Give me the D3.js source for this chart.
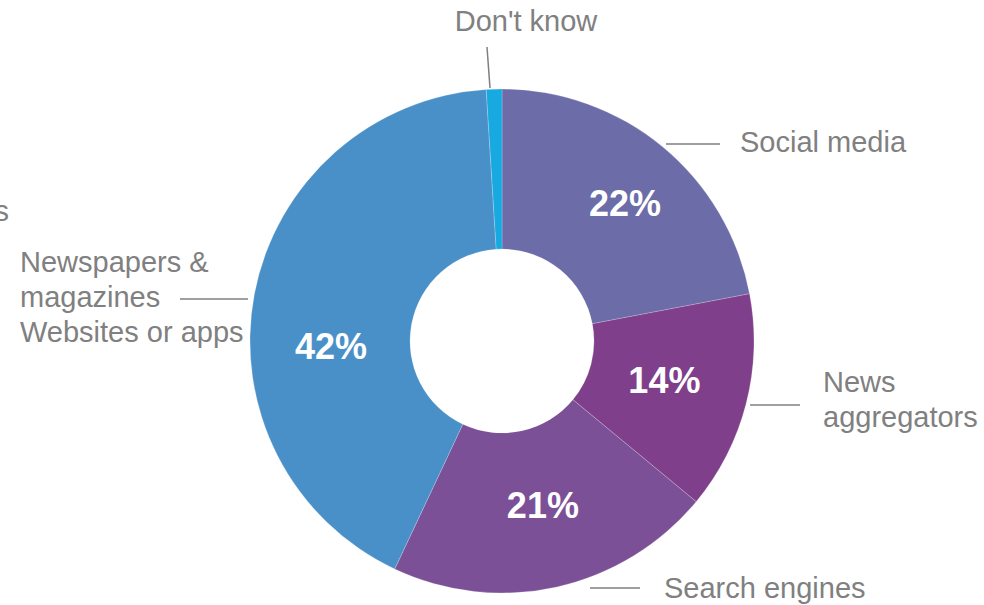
<!DOCTYPE html>
<html>
<head>
<meta charset="utf-8">
<script src="https://cdn.jsdelivr.net/npm/d3@7"></script>
<style>
  html, body { margin: 0; padding: 0; background: #fff; }
  svg { display: block; }
  text { font-family: "Liberation Sans", Arial, Helvetica, sans-serif; }
</style>
</head>
<body>
<svg id="chart" width="984" height="605"></svg>
<script>
// ---- data ----
const categories = ["Social media", "News aggregators", "Search engines", "Newspapers & magazines Websites or apps", "Don't know"];
const values = [22, 14, 21, 42, 1];
const pctLabels = ["22%", "14%", "21%", "42%", ""];
const labelLines = [["Social media"], ["News", "aggregators"], ["Search engines"], ["Newspapers &", "magazines", "Websites or apps"], ["Don't know"]];
const colors = ["#6C6CA8", "#7F3F8A", "#7B5096", "#4A90C8", "#18A9E0"];

// ---- layout (styles / label placement) ----
const W = 984, H = 605;
const cx = 502, cy = 341, outerR = 252, innerR = 92;
// percentage label polar placement: radius and angle tweak (deg)
const pctR = [185, 167, 169, 171, 0];
const pctShift = [2.1, -0.9, -1.4, -12.6, 0];
// external label placement
const extLabel = [
  { x: 740, y: 152, anchor: "start", line: [666, 144, 720, 144] },
  { x: 823, y: 392, anchor: "start", line: [750, 405, 800, 405] },
  { x: 664, y: 598, anchor: "start", line: [590, 588, 640, 588] },
  { x: 20,  y: 272, anchor: "start", line: [180, 299, 248, 299] },
  { x: 526, y: 31,  anchor: "middle", line: [487, 47, 490, 88] }
];
const lineH = 35;

const svg = d3.select("#chart");
const g = svg.append("g").attr("transform", `translate(${cx},${cy})`);

const pie = d3.pie().sort(null).value(d => d.value).startAngle(0).endAngle(2 * Math.PI);
const data = categories.map((c, i) => ({ cat: c, value: values[i], i }));
const arcs = pie(data);
const arc = d3.arc().innerRadius(innerR).outerRadius(outerR);

g.selectAll("path.slice").data(arcs).enter().append("path")
  .attr("class", "slice")
  .attr("d", arc)
  .attr("fill", d => colors[d.data.i])
  .attr("stroke", "#ffffff")
  .attr("stroke-opacity", 0.5)
  .attr("stroke-width", 0.4);

// percentage labels
g.selectAll("text.pct").data(arcs.filter(d => pctLabels[d.data.i] !== "")).enter().append("text")
  .attr("class", "pct")
  .attr("transform", d => {
    const a = (d.startAngle + d.endAngle) / 2 + pctShift[d.data.i] * Math.PI / 180;
    const r = pctR[d.data.i];
    return `translate(${r * Math.sin(a)},${-r * Math.cos(a)})`;
  })
  .attr("text-anchor", "middle")
  .attr("dy", "0.36em")
  .attr("fill", "#ffffff")
  .attr("font-weight", "bold")
  .attr("font-size", 36)
  .text(d => pctLabels[d.data.i]);

// leader lines and category labels
const ext = svg.append("g");
extLabel.forEach((L, i) => {
  ext.append("line")
    .attr("x1", L.line[0]).attr("y1", L.line[1])
    .attr("x2", L.line[2]).attr("y2", L.line[3])
    .attr("stroke", "#7f7f7f").attr("stroke-width", 1.5);
  const t = ext.append("text")
    .attr("x", L.x).attr("y", L.y)
    .attr("text-anchor", L.anchor)
    .attr("fill", "#808080")
    .attr("font-size", 29);
  labelLines[i].forEach((s, k) => {
    t.append("tspan").attr("x", L.x).attr("y", L.y + k * lineH).text(s);
  });
});

// fragment of a label clipped by the left edge, as in the reference
svg.append("text")
  .attr("x", 9).attr("y", 221)
  .attr("text-anchor", "end")
  .attr("fill", "#808080")
  .attr("font-size", 29)
  .text("s");
</script>
</body>
</html>
